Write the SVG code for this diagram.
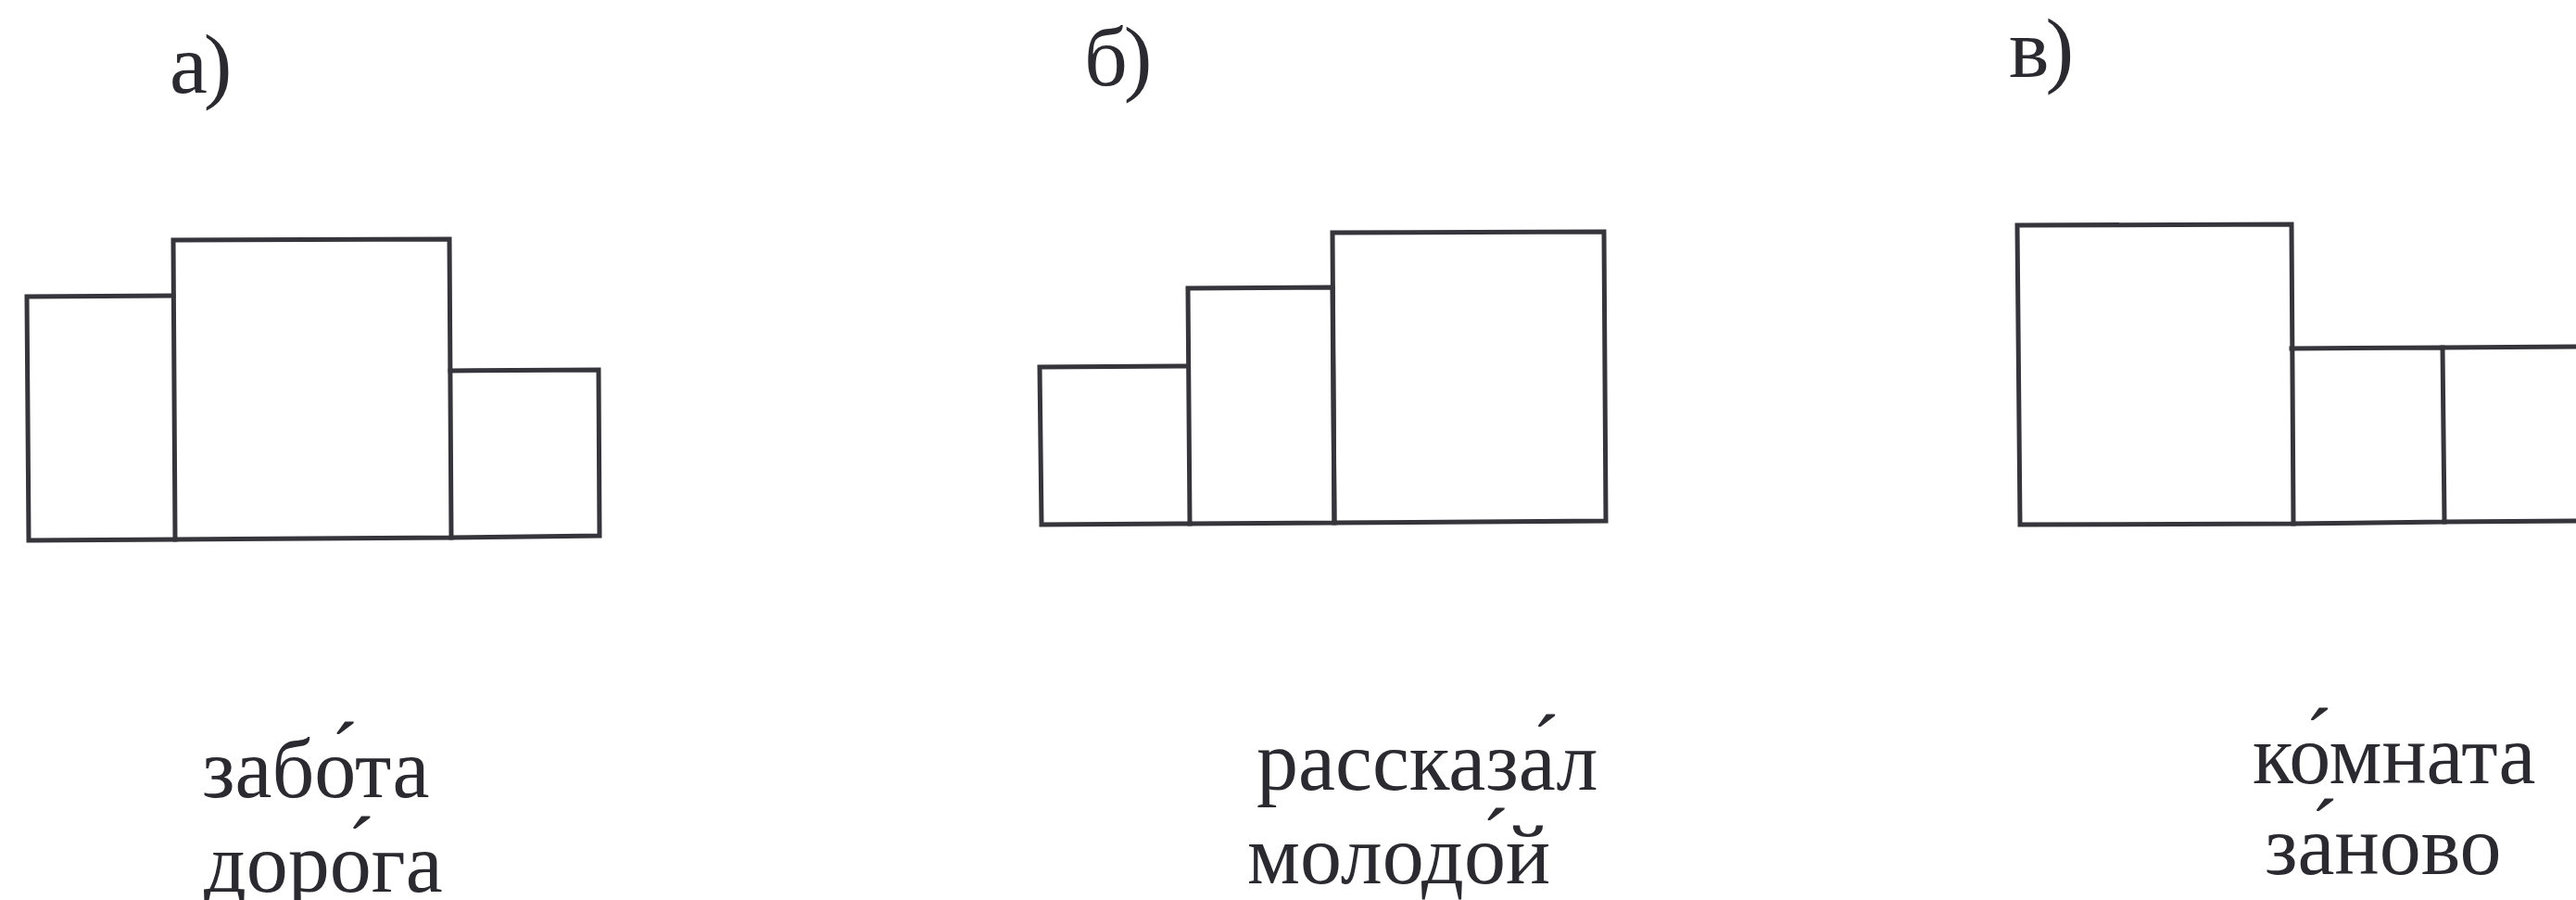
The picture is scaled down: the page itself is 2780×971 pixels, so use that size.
<svg xmlns="http://www.w3.org/2000/svg" width="2780" height="971" viewBox="0 0 2780 971">
<style>
.box{fill:none;stroke:#35353b;stroke-width:5;stroke-linejoin:miter;stroke-linecap:square}
.lbl{font-family:"Liberation Serif","Times New Roman",serif;font-size:92px;fill:#2a2a30}
.word{font-family:"Liberation Serif","Times New Roman",serif;font-size:90px;fill:#2a2a30}
</style>
<rect width="2780" height="971" fill="#ffffff"/>
<g id="fig-a">
  <text class="lbl" x="183" y="100" letter-spacing="-4">а)</text>
  <g id="a-box1"><path class="box" d="M187 319 L29 320 L31 583 L189 582"/></g>
  <g id="a-box2"><path class="box" d="M189 582 L187 259 L485 258 L487 580 Z"/></g>
  <g id="a-box3"><path class="box" d="M486 400 L646 399 L647 578 L487 580"/></g>
  <text class="word" x="218" y="860">забо́та</text>
  <text class="word" x="220" y="962">доро́га</text>
</g>
<g id="fig-b">
  <text class="lbl" x="1170" y="92" letter-spacing="-4">б)</text>
  <g id="b-box1"><path class="box" d="M1282 395 L1122 396 L1124 566 L1284 565"/></g>
  <g id="b-box2"><path class="box" d="M1284 565 L1282 311 L1438 310 L1440 564 Z"/></g>
  <g id="b-box3"><path class="box" d="M1440 564 L1438 251 L1731 250 L1733 562 Z"/></g>
  <text class="word" x="1356" y="852">рассказа́л</text>
  <text class="word" x="1346" y="953">молодо́й</text>
</g>
<g id="fig-c">
  <text class="lbl" x="2168" y="83" letter-spacing="-4">в)</text>
  <g id="c-box1"><path class="box" d="M2177 243 L2473 242 L2475 565 L2180 566 Z"/></g>
  <g id="c-box2"><path class="box" d="M2473 376 L2636 375 L2638 563 L2475 565"/></g>
  <g id="c-box3"><path class="box" d="M2636 375 L2790 374 M2638 563 L2790 562"/></g>
  <text class="word" x="2431" y="845">ко́мната</text>
  <text class="word" x="2444" y="943">за́ново</text>
</g>
<g id="connectors"></g>
</svg>
